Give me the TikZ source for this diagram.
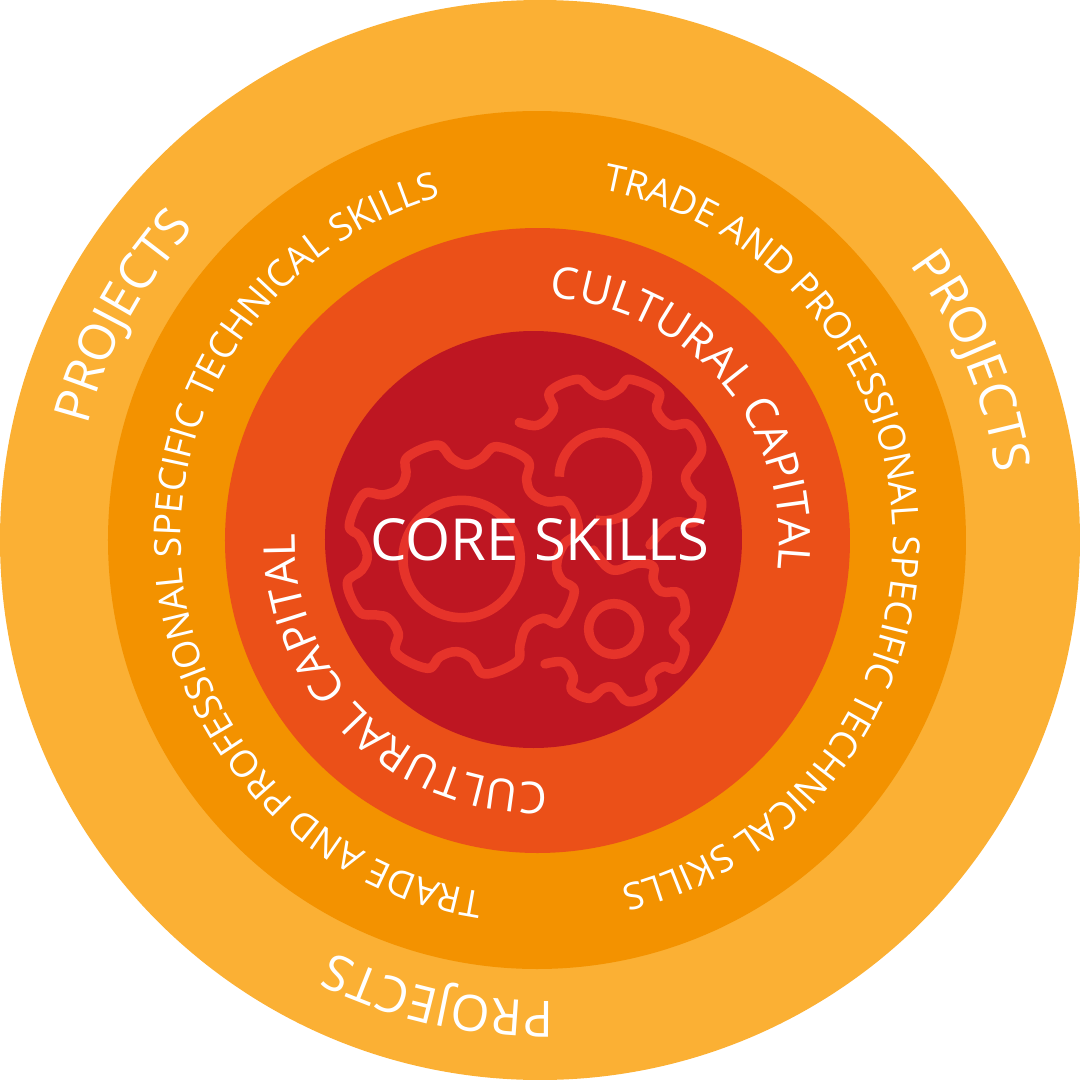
\documentclass[tikz,border=0pt]{standalone}
\usepackage{fontspec}
\setmainfont{Open Sans}
\usetikzlibrary{math,decorations.text}
\definecolor{projectring}{HTML}{FBB034}
\definecolor{tradering}{HTML}{F39200}
\definecolor{culturering}{HTML}{EB5018}
\definecolor{corering}{HTML}{BE1622}
\definecolor{gearred}{HTML}{E6332A}
\tikzset{
  gearline/.style={draw=gearred, line width=0.19cm, line cap=round, line join=round},
  arctext/.style 2 args={decorate, decoration={text along path, text align=center, text color=white, text={|#1|#2}}}
}

\begin{document}
\begin{tikzpicture}[x=0.02cm,y=0.02cm]
      \tikzmath{\rp = 461; \rt = 356; \rc = 242;}
      \useasboundingbox (-540,-540) rectangle (540,540);
      \fill[projectring] (0,0) circle (540);
      \fill[tradering] (-3,0) circle (429);
      \fill[culturering] (-2.5,-0.5) circle (312.5);
      \fill[corering] (-6.5,0.5) circle (208.5);
      % gears
      \begin{scope}[shift={(-210,180)},x=0.02cm/3,y=-0.02cm/3]
        \draw[gearline] plot[smooth cycle, tension=0.65] coordinates {(410,315) (365,295) (322,255) (232,292) (228,345) (208,385) (160,405) (100,403) (58,495) (90,530) (112,585) (95,630) (52,670) (88,755) (140,765) (175,775) (205,820) (200,880) (292,925) (330,890) (380,875) (425,895) (465,942) (560,905) (570,855) (590,800) (640,775) (690,787) (733,695) (695,660) (680,615) (700,555) (745,510) (712,428) (650,425) (605,400) (590,360) (592,300) (500,260) (455,295)};
        \draw[gearline] (395,597) circle (176);
        \draw[gearline] plot[smooth, tension=0.65] coordinates {(568,187) (625,195) (670,150) (660,95) (742,58) (785,90) (825,107) (870,85) (900,58) (985,95) (980,150) (1020,195) (1078,195) (1115,270) (1068,345) (1085,395) (1115,425) (1095,485) (1025,490) (960,555)};
        \draw[gearline, line cap=butt] (688,350) arc[start angle=180, end angle=460, radius=132];
        \draw[gearline] plot[smooth, tension=0.65] coordinates {(645,912) (700,907) (730,950) (725,990) (780,1015) (820,985) (855,985) (895,1025) (965,1000) (960,950) (1000,920) (1040,925) (1065,860) (1030,810) (1065,760) (1050,700) (995,695) (970,660) (970,620) (925,610) (865,630) (830,620) (790,570)};
        \draw[gearline] (852,807) circle (76);
      \end{scope}
      % texts on the rings
      \path[arctext={\fontsize{28.5}{28.5}\selectfont}{PROJECTS}] (36:\rp) arc[start angle=36, end angle=9, radius=\rp];
      \path[arctext={\fontsize{28.5}{28.5}\selectfont}{PROJECTS}] (-88:\rp) arc[start angle=-88, end angle=-117, radius=\rp];
      \path[arctext={\fontsize{28.5}{28.5}\selectfont}{PROJECTS}] ([shift={(-6,0)}]165.5:\rp) arc[start angle=165.5, end angle=137.5, radius=\rp];
      \path[arctext={\fontsize{21.2}{21.2}\selectfont}{TRADE AND PROFESSIONAL SPECIFIC TECHNICAL SKILLS}] ([shift={(-3,0)}]80:\rt) arc[start angle=80, end angle=-77, radius=\rt];
      \path[arctext={\fontsize{21.2}{21.2}\selectfont}{TRADE AND PROFESSIONAL SPECIFIC TECHNICAL SKILLS}] ([shift={(-3,0)}]262:\rt) arc[start angle=262, end angle=105, radius=\rt];
      \path[arctext={\fontsize{25}{25}\selectfont}{CULTURAL CAPITAL}] ([shift={(-3,0)}]88:\rc) arc[start angle=88, end angle=-8, radius=\rc];
      \path[arctext={\fontsize{25}{25}\selectfont}{CULTURAL CAPITAL}] ([shift={(-3,0)}]272.5:\rc) arc[start angle=272.5, end angle=178.5, radius=\rc];
      \node[text=white, anchor=base, inner sep=0pt, font=\fontsize{33}{33}\selectfont] (core) at (0,-20) {CORE SKILLS};
    \end{tikzpicture}
\end{document}
